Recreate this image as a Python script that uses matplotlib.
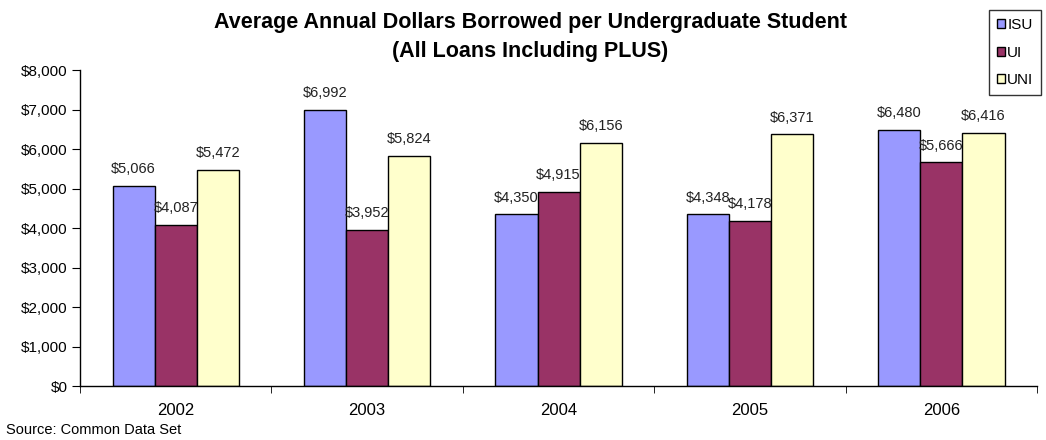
import numpy as np
import matplotlib
matplotlib.use("Agg")
import matplotlib.pyplot as plt
from matplotlib.ticker import FuncFormatter

plt.rcParams['font.family'] = ['Liberation Sans', 'DejaVu Sans']

years = ['2002', '2003', '2004', '2005', '2006']
schools = ['ISU', 'UI', 'UNI']
isu = [5066, 6992, 4350, 4348, 6480]
ui = [4087, 3952, 4915, 4178, 5666]
uni = [5472, 5824, 6156, 6371, 6416]
colors = ['#9999FF', '#993366', '#FFFFCC']

fig = plt.figure(figsize=(10.46, 4.40), dpi=100)
ax = fig.add_axes([0.0765, 0.1227, 0.915, 0.718])

x = np.arange(len(years))
w = 0.22
for i, (vals, name) in enumerate(zip([isu, ui, uni], schools)):
    pos = x + (i - 1) * w
    ax.bar(pos, vals, w, color=colors[i], edgecolor='black', linewidth=1.0, label=name, zorder=2)
    for px, v in zip(pos, vals):
        ax.annotate('${:,}'.format(v), (px, v), xytext=(0, 7), textcoords='offset points',
                    ha='center', va='bottom', fontsize=10.5, color='#222222', zorder=3)

ax.set_xlim(-0.5, len(years) - 0.5)
ax.set_ylim(0, 8000)
ax.set_yticks(range(0, 8001, 1000))
ax.yaxis.set_major_formatter(FuncFormatter(lambda v, p: '${:,.0f}'.format(v)))
ax.set_xticks(x)
ax.set_xticklabels(years)
ax.set_xticks(np.arange(-0.5, len(years), 1.0), minor=True)
ax.tick_params(axis='x', which='major', length=0, labelsize=12, pad=12)
ax.tick_params(axis='x', which='minor', length=5, direction='out')
ax.tick_params(axis='y', length=6, labelsize=11, direction='out', pad=3)

for s in ['top', 'right']:
    ax.spines[s].set_visible(False)
ax.spines['left'].set_linewidth(1.0)
ax.spines['bottom'].set_linewidth(1.0)

# two-line bold title, centred over the plot
fig.text(0.5067, 0.948, 'Average Annual Dollars Borrowed per Undergraduate Student',
         ha='center', va='center', fontsize=15.5, fontweight='bold')
fig.text(0.5067, 0.883, '(All Loans Including PLUS)',
         ha='center', va='center', fontsize=15.5, fontweight='bold')

leg = ax.legend(loc='upper left', frameon=True, fancybox=False, edgecolor='black', fontsize=11,
                handlelength=0.55, handleheight=0.55, handletextpad=0.15,
                labelspacing=0.9, borderpad=0.5, borderaxespad=0)
leg.set_bbox_to_anchor((0.9455, 0.977), transform=fig.transFigure)
leg.get_frame().set_linewidth(1.0)

fig.text(0.006, 0.022, 'Source: Common Data Set', ha='left', va='center', fontsize=10.5)

fig.savefig('out.png', dpi=100)
